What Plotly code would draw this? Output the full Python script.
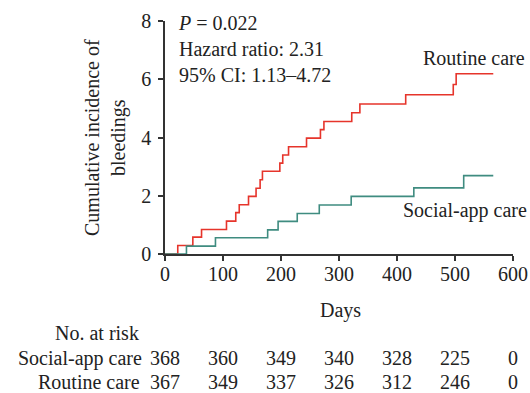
import plotly.graph_objects as go

# Routine care (red) cumulative incidence step data
routine_days = [0, 22, 48, 63, 106, 122, 128, 144, 157, 164, 168, 198, 203, 213, 244, 268, 274, 322, 336, 415, 497, 502, 566]
routine_vals = [0, 0.29, 0.58, 0.84, 1.13, 1.42, 1.69, 1.98, 2.26, 2.55, 2.84, 3.12, 3.40, 3.68, 3.98, 4.27, 4.55, 4.85, 5.15, 5.47, 5.82, 6.19, 6.19]

# Social-app care (green)
social_days = [0, 37, 87, 177, 195, 228, 266, 321, 429, 515, 566]
social_vals = [0, 0.27, 0.56, 0.83, 1.12, 1.39, 1.68, 1.98, 2.27, 2.69, 2.69]

risk_times = [0, 100, 200, 300, 400, 500, 600]
risk_social = [368, 360, 349, 340, 328, 225, 0]
risk_routine = [367, 349, 337, 326, 312, 246, 0]

RED = "#e6342b"
GREEN = "#3f8c80"
FONT = "Liberation Serif"
TXT = "#222222"
FS = 20

fig = go.Figure()
fig.add_trace(go.Scatter(x=routine_days, y=routine_vals, mode="lines", line=dict(color=RED, width=1.6, shape="hv"), showlegend=False))
fig.add_trace(go.Scatter(x=social_days, y=social_vals, mode="lines", line=dict(color=GREEN, width=1.6, shape="hv"), showlegend=False))

L, T, PW, PH = 165, 21, 348, 233

def px(x):
    return (x - L) / PW

def py(y):
    return (T + PH - y) / PH

f = dict(size=FS, color=TXT, family=FONT)
ann = []
ann.append(dict(x=px(176), y=py(49), xref="paper", yref="paper", xanchor="left", yanchor="middle",
                text="<i>P</i> = 0.022<br>Hazard ratio: 2.31<br>95% CI: 1.13–4.72", align="left", showarrow=False, font=f))
ann.append(dict(x=px(527), y=py(58), xref="paper", yref="paper", xanchor="right", yanchor="middle", text="Routine care",
                showarrow=False, font=f))
ann.append(dict(x=px(529), y=py(210), xref="paper", yref="paper", xanchor="right", yanchor="middle", text="Social-app care",
                showarrow=False, font=f))
ann.append(dict(x=px(105), y=py(138), xref="paper", yref="paper", xanchor="center", yanchor="middle", textangle=-90,
                text="Cumulative incidence of<br>bleedings", showarrow=False, font=f))
ann.append(dict(x=px(340), y=py(310), xref="paper", yref="paper", xanchor="center", yanchor="middle", text="Days",
                showarrow=False, font=f))
ann.append(dict(x=px(141), y=py(333), xref="paper", yref="paper", xanchor="right", yanchor="middle", text="No. at risk",
                showarrow=False, font=f))
ann.append(dict(x=px(144), y=py(358), xref="paper", yref="paper", xanchor="right", yanchor="middle", text="Social-app care",
                showarrow=False, font=f))
ann.append(dict(x=px(142), y=py(382), xref="paper", yref="paper", xanchor="right", yanchor="middle", text="Routine care",
                showarrow=False, font=f))
for t, s, r in zip(risk_times, risk_social, risk_routine):
    ann.append(dict(x=t, y=py(358), xref="x", yref="paper", xanchor="center", yanchor="middle", text=str(s),
                    showarrow=False, font=f))
    ann.append(dict(x=t, y=py(382), xref="x", yref="paper", xanchor="center", yanchor="middle", text=str(r),
                    showarrow=False, font=f))

axis_common = dict(ticks="outside", ticklen=5, tickwidth=1.5, tickcolor="#333", automargin=False,
                   showline=True, linecolor="#333", linewidth=1.5, showgrid=False, zeroline=False,
                   tickfont=f)
fig.update_layout(
    width=530, height=393,
    margin=dict(l=L, r=530 - L - PW, t=T, b=393 - T - PH, autoexpand=False),
    paper_bgcolor="white", plot_bgcolor="white",
    font=f,
    annotations=ann,
    xaxis=dict(range=[0, 600], tickvals=risk_times, ticklabelstandoff=-4, **axis_common),
    yaxis=dict(range=[0, 8], tickvals=[0, 2, 4, 6, 8], ticklabelstandoff=3, **axis_common),
)
fig.write_html("out.html", config={"displayModeBar": False},
               post_script="document.body.style.margin='0';")
